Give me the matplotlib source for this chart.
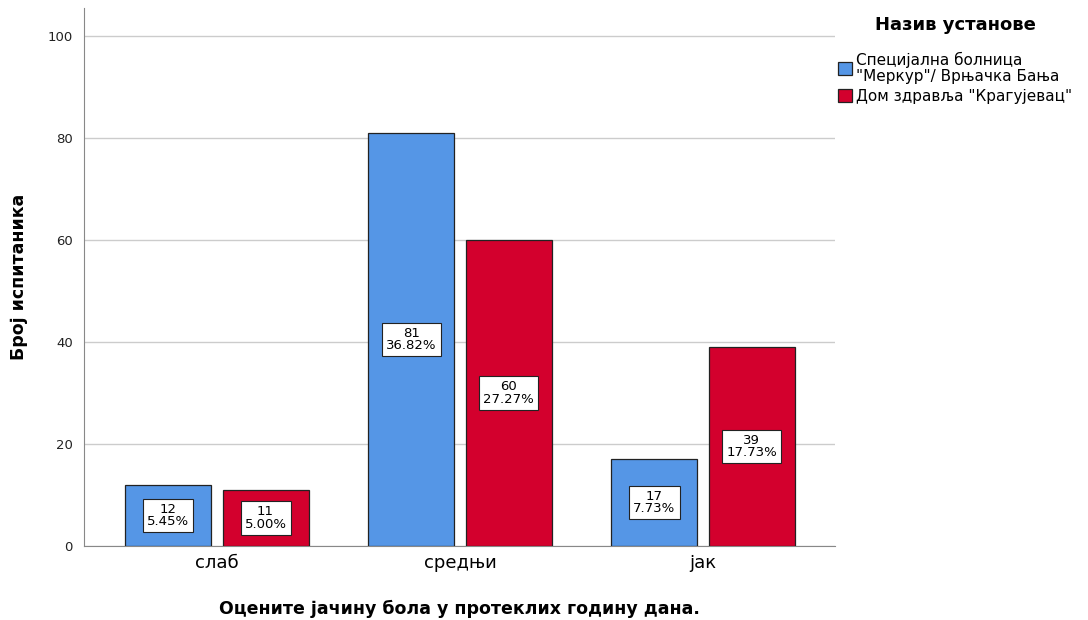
import matplotlib
matplotlib.use("Agg")
import matplotlib.pyplot as plt
import numpy as np

categories = ["слаб", "средњи", "јак"]
series_names = ['Специјална болница\n"Меркур"/ Врњачка Бања', 'Дом здравља "Крагујевац"']
counts_a = [12, 81, 17]
counts_b = [11, 60, 39]
pct_a = ["5.45%", "36.82%", "7.73%"]
pct_b = ["5.00%", "27.27%", "17.73%"]
colors = ["#5596E6", "#D3002D"]

plt.rcParams['font.family'] = ['DejaVu Sans']

fig = plt.figure(figsize=(10.88, 6.2), dpi=100)
ax = fig.add_axes([84/1088, 74/620, (835-84)/1088, (546-8)/620])

x = np.arange(len(categories))
w = 0.354
off = 0.2
for vals, pcts, col, name, sgn in [(counts_a, pct_a, colors[0], series_names[0], -1),
                                    (counts_b, pct_b, colors[1], series_names[1], 1)]:
    bars = ax.bar(x + sgn*off, vals, width=w, color=col, edgecolor="#222222",
                  linewidth=0.9, label=name, zorder=3)
    for b, v, p in zip(bars, vals, pcts):
        ax.text(b.get_x() + b.get_width()/2, v/2, f"{v}\n{p}", ha="center", va="center",
                fontsize=9.5, linespacing=0.95, zorder=4,
                bbox=dict(boxstyle="square,pad=0.3", facecolor="white", edgecolor="#222222", linewidth=0.8))

ax.set_xlim(-0.547, 2.543)
ax.set_ylim(0, 105.5)
ax.set_yticks([0, 20, 40, 60, 80, 100])
ax.yaxis.grid(True, color="#CCCCCC", linewidth=1.0, zorder=0)
ax.set_axisbelow(True)
ax.set_xticks(x)
ax.set_xticklabels(categories, fontsize=13)
ax.tick_params(axis="y", labelsize=9.5, length=0, pad=8, colors="#222222")
ax.tick_params(axis="x", length=0, pad=6)
for s in ["top", "right"]:
    ax.spines[s].set_visible(False)
for s in ["left", "bottom"]:
    ax.spines[s].set_color("#888888")
ax.set_xlabel("Оцените јачину бола у протеклих годину дана.", fontsize=12.5, fontweight="bold", labelpad=20)
ax.set_ylabel("Број испитаника", fontsize=12.5, fontweight="bold", labelpad=14)

leg = ax.legend(loc="upper left", bbox_to_anchor=(838/1088, 0.974), bbox_transform=fig.transFigure,
                frameon=False, title="Назив установе", fontsize=11.0, handlelength=0.9,
                handleheight=0.9, handletextpad=0.3, labelspacing=0.3, borderaxespad=0,
                borderpad=0)
leg.get_title().set_fontweight("bold")
leg.get_title().set_fontsize(13)
leg._legend_box.align = "center"
leg._legend_box.sep = 13
for t in leg.get_texts():
    t.set_linespacing(1.05)

fig.savefig("out.png", dpi=100)
